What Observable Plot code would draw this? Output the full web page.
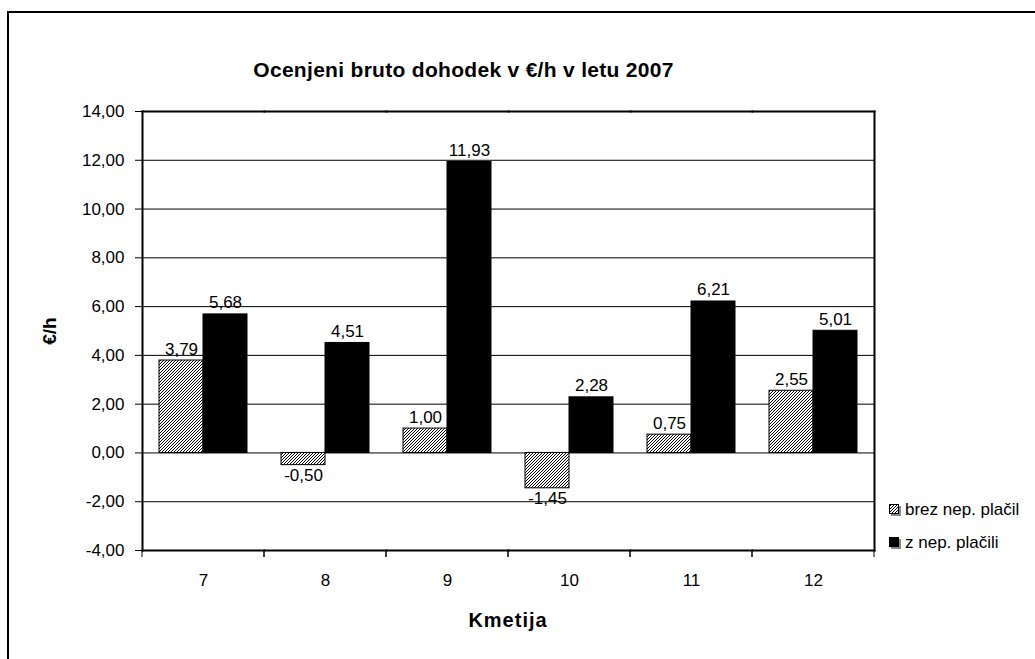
<!DOCTYPE html>
<html>
<head>
<meta charset="utf-8">
<script src="https://cdn.jsdelivr.net/npm/d3@7"></script>
<script src="https://cdn.jsdelivr.net/npm/@observablehq/plot@0.6"></script>
<style>
  html, body { margin: 0; padding: 0; background: white; }
  body { width: 1035px; height: 659px; overflow: hidden; position: relative; font-family: "Liberation Sans", Arial, sans-serif; color: black; }
  #chart { position: absolute; left: 0; top: 0; }
  .frame { position: absolute; left: 7px; top: 11px; width: 1100px; height: 700px; border: 2px solid black; pointer-events: none; }
  .title { position: absolute; left: 0; width: 927px; top: 59px; text-align: center; font-weight: bold; font-size: 21px; line-height: 21px; letter-spacing: 0.3px; }
  .ylabel { position: absolute; left: 49px; top: 331px; font-weight: bold; font-size: 19px; line-height: 19px; white-space: nowrap; transform: translate(-50%, -50%) rotate(-90deg); }
  .xlabel { position: absolute; left: 0; width: 1016px; top: 610px; text-align: center; font-weight: bold; font-size: 20px; line-height: 20px; letter-spacing: 1px; }
  .legend-row { position: absolute; left: 889px; font-size: 17px; line-height: 17px; white-space: nowrap; display: flex; align-items: center; }
  .legend-row svg { margin-right: 4px; }
</style>
</head>
<body>
<svg width="0" height="0" style="position:absolute">
  <defs>
    <pattern id="hatch" patternUnits="userSpaceOnUse" width="3" height="3">
      <rect width="3" height="3" fill="white"></rect>
      <path d="M-1,1 l2,-2 M0,3 l3,-3 M2,4 l2,-2" stroke="black" stroke-width="1"></path>
    </pattern>
  </defs>
</svg>
<div id="chart"></div>
<div class="title">Ocenjeni bruto dohodek v €/h v letu 2007</div>
<div class="ylabel">€/h</div>
<div class="xlabel">Kmetija</div>
<div id="legend"></div>
<div class="frame"></div>
<script>
// ---- data ----
const categories = ["7", "8", "9", "10", "11", "12"];
const seriesNames = ["brez nep. plačil", "z nep. plačili"];
const brezValues = [3.79, -0.50, 1.00, -1.45, 0.75, 2.55];
const zValues = [5.68, 4.51, 11.93, 2.28, 6.21, 5.01];
const yTicks = [-4, -2, 0, 2, 4, 6, 8, 10, 12, 14];
const seriesColors = ["url(#hatch)", "black"];

const data = categories.flatMap((c, i) => [
  {cat: c, series: seriesNames[0], value: brezValues[i]},
  {cat: c, series: seriesNames[1], value: zValues[i]}
]);
const fmt = v => v.toFixed(2).replace(".", ",");

// short ticks at the category boundaries, below the x axis
function boundaryTicks(index, scales) {
  const ns = "http://www.w3.org/2000/svg";
  const g = document.createElementNS(ns, "g");
  const [x0, x1] = scales.x.range();
  const yb = Math.max(...scales.y.range());
  for (const x of [x0, x1]) {
    const l = document.createElementNS(ns, "line");
    l.setAttribute("x1", x); l.setAttribute("x2", x);
    l.setAttribute("y1", yb); l.setAttribute("y2", yb + 7);
    l.setAttribute("stroke", "black");
    g.appendChild(l);
  }
  return g;
}

const chart = Plot.plot({
  width: 1035,
  height: 659,
  marginLeft: 140,
  marginRight: 160,
  marginTop: 111,
  marginBottom: 109,
  style: {fontFamily: "'Liberation Sans', Arial, sans-serif", fontSize: "17px", color: "black", background: "transparent", overflow: "visible"},
  fx: {domain: categories, padding: 0},
  x: {domain: seriesNames, paddingInner: 0, paddingOuter: 0.36, axis: null},
  y: {domain: [-4, 14]},
  color: {domain: seriesNames, range: seriesColors},
  marks: [
    Plot.gridY(yTicks.slice(1, -1), {stroke: "black", strokeOpacity: 1, strokeWidth: 1}),
    Plot.barY(data, {fx: "cat", x: "series", y: "value", fill: "series", stroke: "black", strokeWidth: 1}),
    Plot.frame({anchor: "top", strokeWidth: 2}),
    Plot.frame({anchor: "bottom", strokeWidth: 2}),
    Plot.frame({anchor: "left", facetAnchor: "left", strokeWidth: 2}),
    Plot.frame({anchor: "right", facetAnchor: "right", strokeWidth: 2}),
    Plot.text(data.filter(d => d.value >= 0), {fx: "cat", x: "series", y: "value", text: d => fmt(d.value), lineAnchor: "bottom", dy: -6, fontSize: 17}),
    Plot.text(data.filter(d => d.value < 0), {fx: "cat", x: "series", y: "value", text: d => fmt(d.value), lineAnchor: "top", dy: 4, fontSize: 17}),
    Plot.axisY(yTicks, {tickFormat: fmt, tickSize: 7, tickPadding: 11, label: null, fontSize: 17}),
    Plot.axisFx({anchor: "bottom", tickSize: 0, tickPadding: 23, label: null, fontSize: 17}),
    boundaryTicks
  ]
});
document.getElementById("chart").appendChild(chart);

// legend
const legend = document.getElementById("legend");
const legendTops = [501, 534];
seriesNames.forEach((name, i) => {
  const row = document.createElement("div");
  row.className = "legend-row";
  row.style.top = legendTops[i] + "px";
  row.innerHTML = `<svg width="12" height="12"><rect x="2" y="2" width="10" height="10" fill="#888"></rect><rect x="0.5" y="0.5" width="9" height="9" fill="${seriesColors[i]}" stroke="black"></rect></svg><span>${name}</span>`;
  legend.appendChild(row);
});
</script>
</body>
</html>
